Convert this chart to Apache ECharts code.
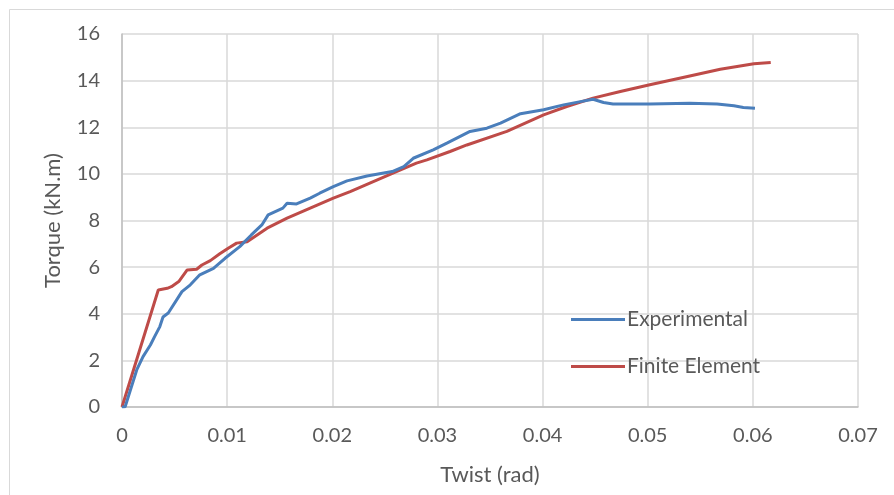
<!DOCTYPE html>
<html><head><meta charset="utf-8">
<script src="https://cdn.jsdelivr.net/npm/echarts@6/dist/echarts.min.js"></script>
<style>html,body{margin:0;padding:0;background:#fff}#c{width:894px;height:495px}</style>
</head><body><div id="c"></div>
<script>
const xTicks = [0, 0.01, 0.02, 0.03, 0.04, 0.05, 0.06, 0.07];
const yTicks = [0, 2, 4, 6, 8, 10, 12, 14, 16];
const expTwist = [0, 0.0003, 0.0008, 0.0014, 0.002, 0.0027, 0.0031, 0.0036, 0.0039, 0.0044, 0.0057, 0.0065, 0.0074, 0.0087, 0.0098, 0.0112, 0.0123, 0.0133, 0.0139, 0.0153, 0.0157, 0.0166, 0.0179, 0.0188, 0.0201, 0.0214, 0.0233, 0.0257, 0.0268, 0.0277, 0.0296, 0.0309, 0.0331, 0.0347, 0.036, 0.0379, 0.0401, 0.042, 0.0436, 0.0448, 0.0458, 0.0467, 0.0502, 0.054, 0.0566, 0.0582, 0.0591, 0.0602];
const expTorque = [0, 0.01, 0.73, 1.59, 2.16, 2.66, 3.02, 3.45, 3.86, 4.03, 4.95, 5.24, 5.67, 5.95, 6.38, 6.88, 7.38, 7.81, 8.24, 8.53, 8.74, 8.71, 8.96, 9.17, 9.45, 9.7, 9.91, 10.1, 10.31, 10.67, 11.03, 11.32, 11.82, 11.96, 12.18, 12.58, 12.75, 12.96, 13.1, 13.2, 13.06, 13.0, 13.0, 13.03, 13.0, 12.92, 12.85, 12.82];
const feTwist = [0, 0.00345, 0.0043, 0.0047, 0.0054, 0.0062, 0.0071, 0.0076, 0.0084, 0.0093, 0.0101, 0.0109, 0.0119, 0.0138, 0.0157, 0.0179, 0.0201, 0.0217, 0.0239, 0.0261, 0.028, 0.029, 0.0312, 0.0328, 0.0366, 0.0401, 0.0423, 0.0448, 0.0474, 0.0502, 0.054, 0.0569, 0.0601, 0.0617];
const feTorque = [0, 5.02, 5.09, 5.16, 5.38, 5.88, 5.91, 6.09, 6.28, 6.57, 6.81, 7.03, 7.09, 7.67, 8.1, 8.53, 8.96, 9.24, 9.67, 10.1, 10.46, 10.6, 10.96, 11.24, 11.82, 12.53, 12.89, 13.25, 13.53, 13.82, 14.2, 14.49, 14.72, 14.78];
const seriesNames = ['Experimental', 'Finite Element'];

const zip = (a, b) => a.map((v, i) => [v, b[i]]);
const font = 'Lato, "Open Sans", sans-serif';
const chart = echarts.init(document.getElementById('c'), null, {renderer: 'canvas'});
chart.setOption({
  animation: false,
  backgroundColor: '#fff',
  graphic: [{type: 'rect', shape: {x: 9.5, y: 9.5, width: 900, height: 500}, style: {fill: 'none', stroke: '#d9d9d9', lineWidth: 1}, silent: true}],
  grid: {left: 122, right: 36, top: 34, bottom: 88},
  legend: {
    orient: 'vertical', left: 566, top: 304, itemWidth: 54, itemHeight: 3, itemGap: 26,
    icon: 'rect',
    textStyle: {fontFamily: font, fontSize: 21, color: '#595959', padding: [0, 0, 0, -3]},
    data: seriesNames
  },
  xAxis: {
    type: 'value', min: 0, max: 0.07, interval: 0.01,
    name: 'Twist (rad)', nameLocation: 'middle', nameGap: 57,
    nameTextStyle: {fontFamily: font, fontSize: 22, color: '#595959'},
    axisLine: {show: true, lineStyle: {color: '#bfbfbf', width: 1.5}},
    axisTick: {show: false},
    axisLabel: {fontFamily: font, fontSize: 20, color: '#595959', margin: 19,
      formatter: v => { const i = xTicks.findIndex(t => Math.abs(t - v) < 1e-9); return i >= 0 ? String(xTicks[i]) : ''; }},
    splitLine: {show: true, lineStyle: {color: '#d9d9d9', width: 1.5}}
  },
  yAxis: {
    type: 'value', min: 0, max: 16, interval: 2,
    name: 'Torque (kN.m)', nameLocation: 'middle', nameGap: 58,
    nameTextStyle: {fontFamily: font, fontSize: 22, color: '#595959'},
    axisLine: {show: true, lineStyle: {color: '#bfbfbf', width: 1.5}},
    axisTick: {show: false},
    axisLabel: {fontFamily: font, fontSize: 20, color: '#595959', margin: 22,
      formatter: v => yTicks.includes(v) ? String(v) : ''},
    splitLine: {show: true, lineStyle: {color: '#d9d9d9', width: 1.5}}
  },
  series: [
    {name: seriesNames[0], type: 'line', data: zip(expTwist, expTorque), showSymbol: false, symbol: 'none',
      lineStyle: {color: '#4a7ebb', width: 3}, itemStyle: {color: '#4a7ebb'}, z: 3},
    {name: seriesNames[1], type: 'line', data: zip(feTwist, feTorque), showSymbol: false, symbol: 'none',
      lineStyle: {color: '#be4b48', width: 3}, itemStyle: {color: '#be4b48'}, z: 2}
  ]
});
</script></body></html>
